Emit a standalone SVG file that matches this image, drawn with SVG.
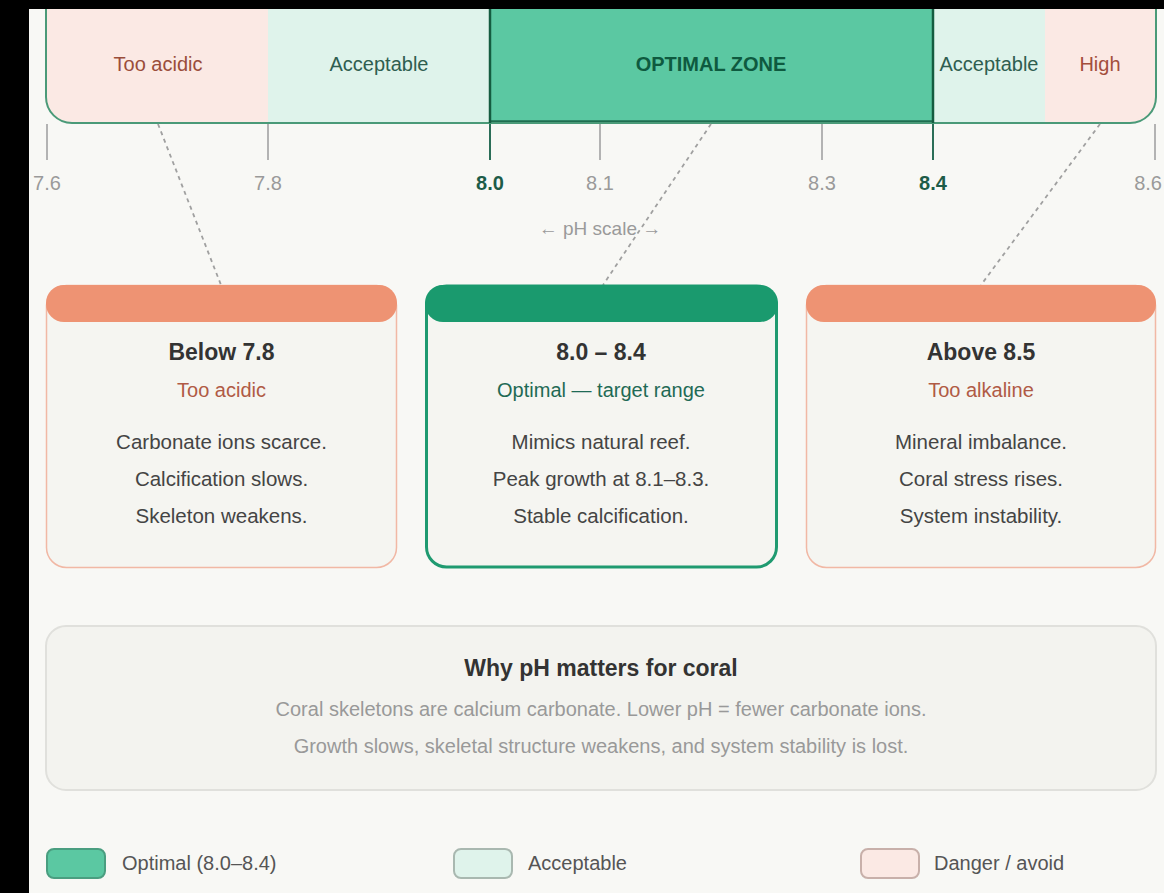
<svg xmlns="http://www.w3.org/2000/svg" width="1164" height="893" viewBox="0 0 1164 893">
<style>
text{font-family:"Liberation Sans",Arial,sans-serif;text-anchor:middle}
.zl{font-size:20px}
.tk{stroke:#b3b3b3;stroke-width:2}
.tkb{stroke:#2b6e58;stroke-width:2}
.tl{font-size:20px;fill:#9a9a9a}
.tle{font-size:20px;fill:#9a9a9a;text-anchor:end}
.tlb{font-size:20px;fill:#1d5c48;font-weight:bold}
.conn{stroke:#a0a0a0;stroke-width:1.8;stroke-dasharray:4 4;fill:none}
.card{fill:#f5f5f1;stroke:#f1b8a5;stroke-width:1.5}
.cardo{fill:#f5f5f1;stroke:#1f9a70;stroke-width:3}
.hd{fill:#ee9373}
.hdo{fill:#1a9a6e}
.ct{font-size:23px;font-weight:bold;fill:#333}
.cs{font-size:20px;fill:#b05a45}
.cso{font-size:20px;fill:#1f6a55}
.cb{font-size:20.5px;fill:#444}
.it{font-size:23px;font-weight:bold;fill:#333}
.ib{font-size:20px;fill:#999}
.lg{font-size:20px;fill:#555;text-anchor:start}
</style>
<defs>
<clipPath id="barclip"><rect x="46" y="-20" width="1110" height="143" rx="26"/></clipPath>
</defs>
<rect x="0" y="0" width="1164" height="893" fill="#f8f8f5"/>

<g id="ph-bar">
<g clip-path="url(#barclip)">
<rect x="46" y="-20" width="222" height="143" fill="#fbe9e4"/>
<rect x="268" y="-20" width="222" height="143" fill="#dff3eb"/>
<rect x="490" y="-20" width="443" height="143" fill="#5bc8a2"/>
<rect x="933" y="-20" width="112" height="143" fill="#dff3eb"/>
<rect x="1045" y="-20" width="111" height="143" fill="#fbe9e4"/>
<line x1="490" y1="121.5" x2="933" y2="121.5" stroke="#1f6e50" stroke-width="2.5"/>
</g>
<rect x="46" y="-20" width="1110" height="143" rx="26" fill="none" stroke="#4a9a78" stroke-width="2"/>
<line x1="490" y1="-20" x2="490" y2="123" stroke="#145c40" stroke-width="2.5"/>
<line x1="933" y1="-20" x2="933" y2="123" stroke="#145c40" stroke-width="2.5"/>
<text class="zl" x="158" y="71" fill="#9a4d3a">Too acidic</text>
<text class="zl" x="379" y="71" fill="#2f5e50">Acceptable</text>
<text class="zl" x="711" y="71" fill="#0e5a3f" font-weight="bold">OPTIMAL ZONE</text>
<text class="zl" x="989" y="71" fill="#2f5e50">Acceptable</text>
<text class="zl" x="1100" y="71" fill="#a34e3c">High</text>
</g>

<g id="ph-ticks">
<line class="tk" x1="47" y1="124" x2="47" y2="160"/>
<line class="tk" x1="268" y1="124" x2="268" y2="160"/>
<line class="tkb" x1="490" y1="124" x2="490" y2="160"/>
<line class="tk" x1="600" y1="124" x2="600" y2="160"/>
<line class="tk" x1="822" y1="124" x2="822" y2="160"/>
<line class="tkb" x1="933" y1="124" x2="933" y2="160"/>
<line class="tk" x1="1155" y1="124" x2="1155" y2="160"/>
<text class="tl" x="47" y="190">7.6</text>
<text class="tl" x="268" y="190">7.8</text>
<text class="tlb" x="490" y="190">8.0</text>
<text class="tl" x="600" y="190">8.1</text>
<text class="tl" x="822" y="190">8.3</text>
<text class="tlb" x="933" y="190">8.4</text>
<text class="tle" x="1162" y="190">8.6</text>
<text x="600" y="235" font-size="19" fill="#9a9a9a">← pH scale →</text>
</g>

<g id="connectors">
<line class="conn" x1="158" y1="124" x2="221" y2="285"/>
<line class="conn" x1="711" y1="124" x2="603" y2="285"/>
<line class="conn" x1="1100" y1="124" x2="981" y2="285"/>
</g>

<g id="card-low">
<rect class="card" x="46.5" y="285.5" width="350" height="282" rx="20"/>
<rect class="hd" x="46" y="285" width="351" height="37" rx="18"/>
<text class="ct" x="221.5" y="360">Below 7.8</text>
<text class="cs" x="221.5" y="397">Too acidic</text>
<text class="cb" x="221.5" y="449">Carbonate ions scarce.</text>
<text class="cb" x="221.5" y="486">Calcification slows.</text>
<text class="cb" x="221.5" y="523">Skeleton weakens.</text>
</g>

<g id="card-optimal">
<rect class="cardo" x="426.5" y="286" width="350" height="281" rx="20"/>
<rect class="hdo" x="425" y="285" width="353" height="37" rx="18"/>
<text class="ct" x="601" y="360">8.0 – 8.4</text>
<text class="cso" x="601" y="397">Optimal — target range</text>
<text class="cb" x="601" y="449">Mimics natural reef.</text>
<text class="cb" x="601" y="486">Peak growth at 8.1–8.3.</text>
<text class="cb" x="601" y="523">Stable calcification.</text>
</g>

<g id="card-high">
<rect class="card" x="806.5" y="285.5" width="349" height="282" rx="20"/>
<rect class="hd" x="806" y="285" width="350" height="37" rx="18"/>
<text class="ct" x="981" y="360">Above 8.5</text>
<text class="cs" x="981" y="397">Too alkaline</text>
<text class="cb" x="981" y="449">Mineral imbalance.</text>
<text class="cb" x="981" y="486">Coral stress rises.</text>
<text class="cb" x="981" y="523">System instability.</text>
</g>

<g id="info">
<rect x="46" y="626" width="1110" height="164" rx="20" fill="#f3f3ef" stroke="#e0e0dc" stroke-width="2"/>
<text class="it" x="601" y="676">Why pH matters for coral</text>
<text class="ib" x="601" y="716">Coral skeletons are calcium carbonate. Lower pH = fewer carbonate ions.</text>
<text class="ib" x="601" y="753">Growth slows, skeletal structure weakens, and system stability is lost.</text>
</g>

<g id="legend">
<rect x="47" y="849" width="58" height="29" rx="7" fill="#5bc8a2" stroke="#4a9e80" stroke-width="2"/>
<text class="lg" x="122" y="870">Optimal (8.0–8.4)</text>
<rect x="454" y="849" width="58" height="29" rx="7" fill="#dff3eb" stroke="#a9b8b0" stroke-width="2"/>
<text class="lg" x="528" y="870">Acceptable</text>
<rect x="861" y="849" width="58" height="29" rx="7" fill="#fbe9e4" stroke="#c8b0aa" stroke-width="2"/>
<text class="lg" x="934" y="870">Danger / avoid</text>
</g>

<rect x="0" y="0" width="1164" height="9" fill="#000"/>
<rect x="0" y="0" width="29" height="893" fill="#000"/>
</svg>
